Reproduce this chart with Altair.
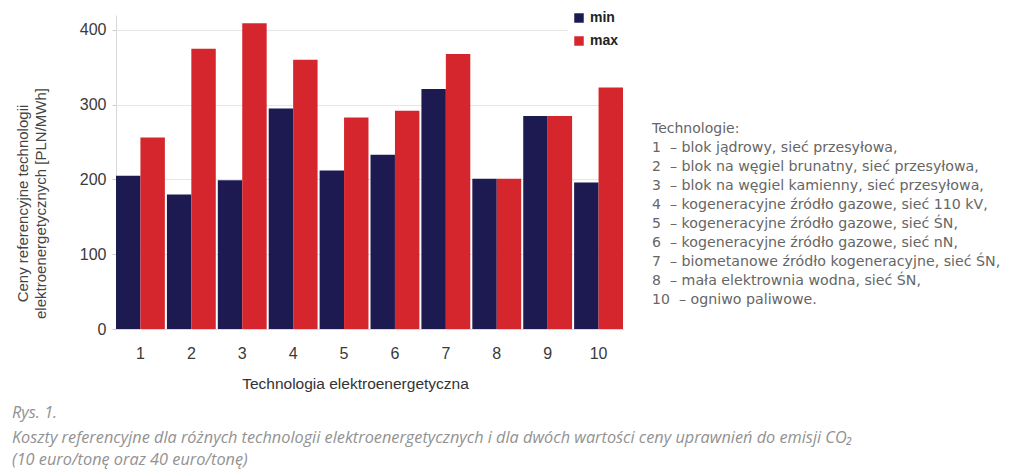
import altair as alt
import pandas as pd

# ---- data ----
technologies = ["1", "2", "3", "4", "5", "6", "7", "8", "9", "10"]
min_values = [205, 180, 199, 295, 212, 233, 321, 201, 285, 196]
max_values = [256, 375, 409, 360, 283, 292, 368, 201, 285, 323]
series_names = ["min", "max"]
series_colors = ["#1c1a50", "#d5262d"]

legend_title = "Technologie:"
list_numbers = ["1", "2", "3", "4", "5", "6", "7", "8", "10"]
list_texts = [
    "– blok jądrowy, sieć przesyłowa,",
    "– blok na węgiel brunatny, sieć przesyłowa,",
    "– blok na węgiel kamienny, sieć przesyłowa,",
    "– kogeneracyjne źródło gazowe, sieć 110 kV,",
    "– kogeneracyjne źródło gazowe, sieć ŚN,",
    "– kogeneracyjne źródło gazowe, sieć nN,",
    "– biometanowe źródło kogeneracyjne, sieć ŚN,",
    "– mała elektrownia wodna, sieć ŚN,",
    "– ogniwo paliwowe.",
]
caption_lines = [
    "Rys. 1.",
    "Koszty referencyjne dla różnych technologii elektroenergetycznych i dla dwóch wartości ceny uprawnień do emisji CO₂",
    "(10 euro/tonę oraz 40 euro/tonę)",
]

rows = []
for t, mn, mx in zip(technologies, min_values, max_values):
    rows.append({"tech": t, "series": "min", "value": mn})
    rows.append({"tech": t, "series": "max", "value": mx})
df = pd.DataFrame(rows)

FONT = "Liberation Sans"

bars = alt.Chart(df).mark_bar().encode(
    x=alt.X("tech:N", sort=technologies,
            scale=alt.Scale(paddingInner=0.04, paddingOuter=0.0),
            axis=alt.Axis(title="Technologia elektroenergetyczna", labelAngle=0,
                          labelFontSize=16, labelColor="#3a3a3a", labelFont=FONT,
                          labelPadding=16, ticks=False, domain=True, domainColor="#d8d8d8",
                          titleFontSize=15.5, titleFont=FONT, titleFontWeight="normal",
                          titleColor="#333333", titlePadding=15, titleX=239)),
    xOffset=alt.XOffset("series:N", sort=series_names),
    y=alt.Y("value:Q", scale=alt.Scale(domain=[0, 420], nice=False),
            axis=alt.Axis(values=[0, 100, 200, 300, 400],
                          title=["Ceny referencyjne technologii",
                                 "elektroenergetycznych [PLN/MWh]"],
                          labelFontSize=16, labelColor="#3a3a3a", labelFont=FONT,
                          labelPadding=6, tickSize=4, tickColor="#cccccc",
                          domainColor="#d8d8d8", gridColor="#e6e6e6",
                          titleFontSize=15, titleFont=FONT, titleFontWeight="normal",
                          titleColor="#444444", titlePadding=31, titleLineHeight=18,
                          titleY=188)),
    color=alt.Color("series:N", sort=series_names,
                    scale=alt.Scale(domain=series_names, range=series_colors),
                    legend=alt.Legend(title=None, orient="none", legendX=452, legendY=-8,
                                      symbolType="square", symbolSize=90,
                                      symbolStrokeWidth=0,
                                      labelFontSize=14, labelFontWeight="bold",
                                      labelFont=FONT, labelColor="#222222",
                                      rowPadding=9, fillColor="white", padding=4)),
)

list_df = pd.DataFrame({
    "num": [legend_title] + list_numbers,
    "txt": [""] + list_texts,
    "i": list(range(len(list_numbers) + 1)),
})

LIST_FONT = "DejaVu Sans"
num_layer = alt.Chart(list_df).mark_text(
    align="left", baseline="middle", font=LIST_FONT, fontSize=14, color="#666666"
).transform_calculate(py="114 + 19 * datum.i").encode(
    x=alt.value(536), y=alt.Y("py:Q", scale=None), text="num:N")

txt_layer = alt.Chart(list_df).mark_text(
    align="left", baseline="middle", font=LIST_FONT, fontSize=14.2, color="#666666"
).transform_calculate(
    py="114 + 19 * datum.i",
    px="datum.num == '10' ? 563 : 554",
).encode(
    x=alt.X("px:Q", scale=None), y=alt.Y("py:Q", scale=None), text="txt:N")

cap_df = pd.DataFrame({"line": caption_lines, "i": [0, 1, 2]})
cap_layer = alt.Chart(cap_df).mark_text(
    align="left", baseline="middle", font="Open Sans", fontStyle="italic",
    fontSize=16.3, color="#929292"
).transform_calculate(py="datum.i == 0 ? 398 : (datum.i == 1 ? 423 : 445)").encode(
    x=alt.value(-104), y=alt.Y("py:Q", scale=None), text="line:N")

chart = alt.layer(bars, num_layer, txt_layer, cap_layer).properties(
    width=507, height=314,
    autosize=alt.AutoSizeParams(type="none"),
    padding={"left": 116, "top": 15, "right": 401, "bottom": 147},
    background="white",
).configure_view(stroke=None)

chart.save("out.html", embed_options={"renderer": "svg", "actions": False})
